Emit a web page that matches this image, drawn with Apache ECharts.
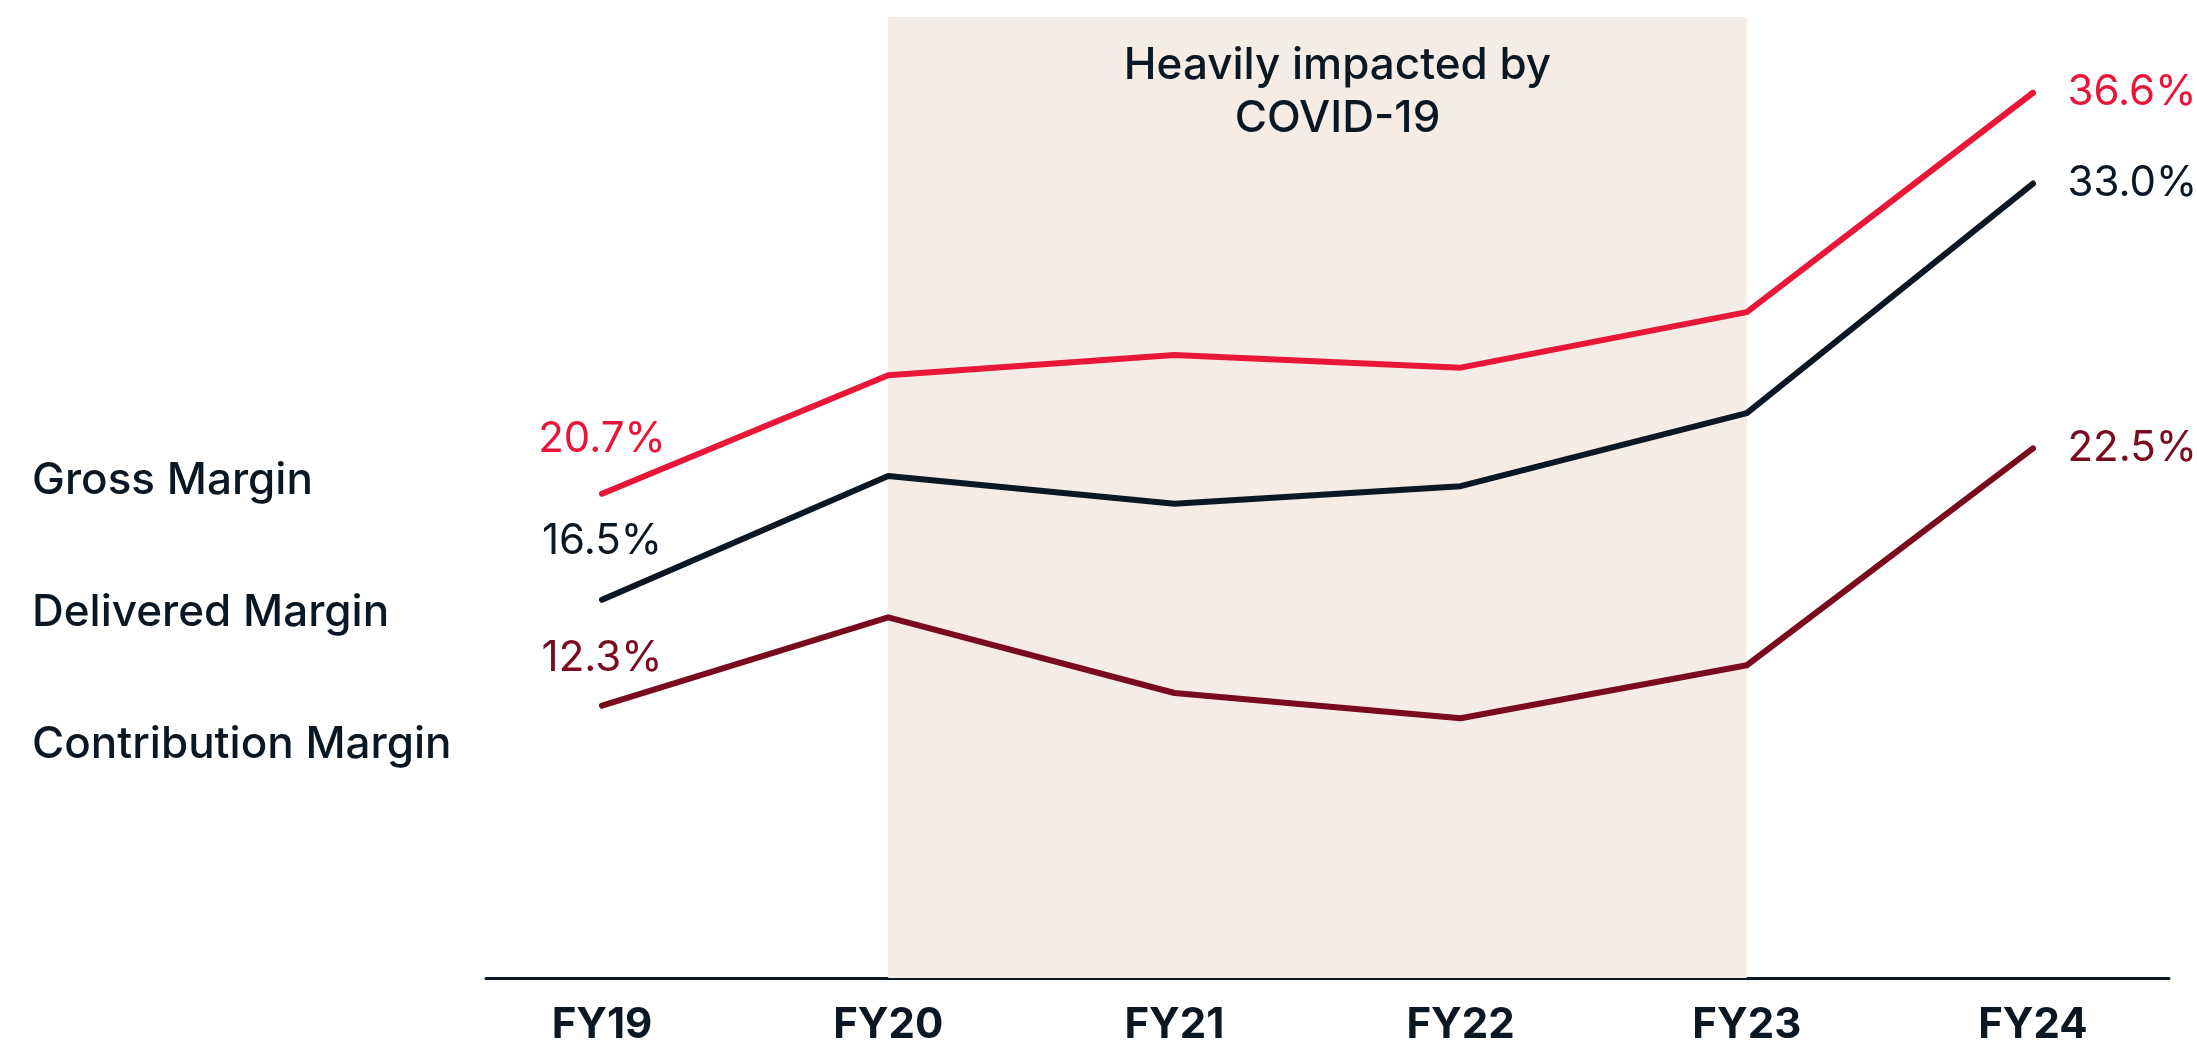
<!DOCTYPE html>
<html>
<head>
<meta charset="utf-8">
<script src="https://cdn.jsdelivr.net/npm/echarts@6/dist/echarts.min.js"></script>
<style>
  html, body { margin: 0; padding: 0; background: #fff; }
  #chart { width: 2197px; height: 1046px; }
</style>
</head>
<body>
<div id="chart"></div>
<script>
// values (percent)
var categories = ['FY19', 'FY20', 'FY21', 'FY22', 'FY23', 'FY24'];
var seriesNames = ['Gross Margin', 'Delivered Margin', 'Contribution Margin'];
var grossMargin = [20.7, 25.4, 26.2, 25.7, 27.9, 36.6];
var deliveredMargin = [16.5, 21.4, 20.3, 21.0, 23.9, 33.0];
var contributionMargin = [12.3, 15.8, 12.8, 11.8, 13.9, 22.5];
var covidRange = ['FY20', 'FY23'];
var covidText = 'Heavily impacted by\nCOVID-19';

var FONT = 'Inter, "Noto Sans", sans-serif';
var colors = ['#E8173A', '#0B1722', '#7A0A1E'];
var firstLabelGap = [32, 36, 25];

function withLabels(values, idx) {
  var last = values.length - 1;
  return values.map(function (v, i) {
    if (i === 0) {
      return { value: v, label: { show: true, position: 'top', distance: firstLabelGap[idx] } };
    }
    if (i === last) {
      return { value: v, label: { show: true, position: 'right', distance: 34 } };
    }
    return v;
  });
}

var myChart = echarts.init(document.getElementById('chart'));

var lists = [grossMargin, deliveredMargin, contributionMargin];
var series = lists.map(function (vals, k) {
  var s = {
    name: seriesNames[k],
    type: 'line',
    xAxisIndex: 0,
    yAxisIndex: 0,
    data: withLabels(vals, k),
    symbol: 'circle',
    symbolSize: 1,
    silent: true,
    z: 3,
    itemStyle: { color: colors[k] },
    lineStyle: { color: colors[k], width: 6, cap: 'round', join: 'round' },
    label: {
      show: false,
      formatter: function (p) { return p.value.toFixed(1) + '%'; },
      color: colors[k],
      fontFamily: FONT,
      fontSize: 42,
      lineHeight: 44,
      fontWeight: 400
    }
  };
  if (k === 0) {
    s.markArea = {
      silent: true,
      itemStyle: { color: '#F5ECE6' },
      label: {
        show: true,
        position: 'insideTop',
        distance: 22,
        offset: [20, 0],
        formatter: covidText,
        color: '#0B1722',
        fontFamily: FONT,
        fontSize: 44,
        lineHeight: 53,
        fontWeight: 500,
        align: 'center'
      },
      data: [[{ coord: [covidRange[0], 1.5] }, { coord: [covidRange[1], 39.6] }]]
    };
  }
  return s;
});

myChart.setOption({
  animation: false,
  backgroundColor: '#ffffff',
  legend: {
    data: seriesNames,
    orient: 'vertical',
    left: 22,
    top: 454,
    icon: 'none',
    itemWidth: 0,
    itemHeight: 0,
    itemGap: 88,
    selectedMode: false,
    textStyle: {
      color: '#0B1722',
      fontFamily: FONT,
      fontSize: 44,
      lineHeight: 44,
      fontWeight: 500
    }
  },
  grid: [
    { left: 602, right: 164, top: 7, bottom: 68 },
    { left: 486, right: 28, top: 7, bottom: 68 }
  ],
  xAxis: [{
    type: 'category',
    gridIndex: 0,
    data: categories,
    boundaryGap: false,
    axisLine: { show: false },
    axisTick: { show: false },
    splitLine: { show: false },
    axisLabel: {
      margin: 26,
      color: '#0B1722',
      fontFamily: FONT,
      fontSize: 42,
      fontWeight: 700
    }
  }, {
    type: 'value',
    gridIndex: 1,
    min: 0,
    max: 1,
    axisLine: { show: true, onZero: false, lineStyle: { color: '#0B1722', width: 3 } },
    axisTick: { show: false },
    axisLabel: { show: false },
    splitLine: { show: false }
  }],
  yAxis: [{
    type: 'value',
    gridIndex: 0,
    min: 1.5,
    max: 40,
    show: false
  }, {
    type: 'value',
    gridIndex: 1,
    min: 0,
    max: 1,
    show: false
  }],
  series: series
});
</script>
</body>
</html>
